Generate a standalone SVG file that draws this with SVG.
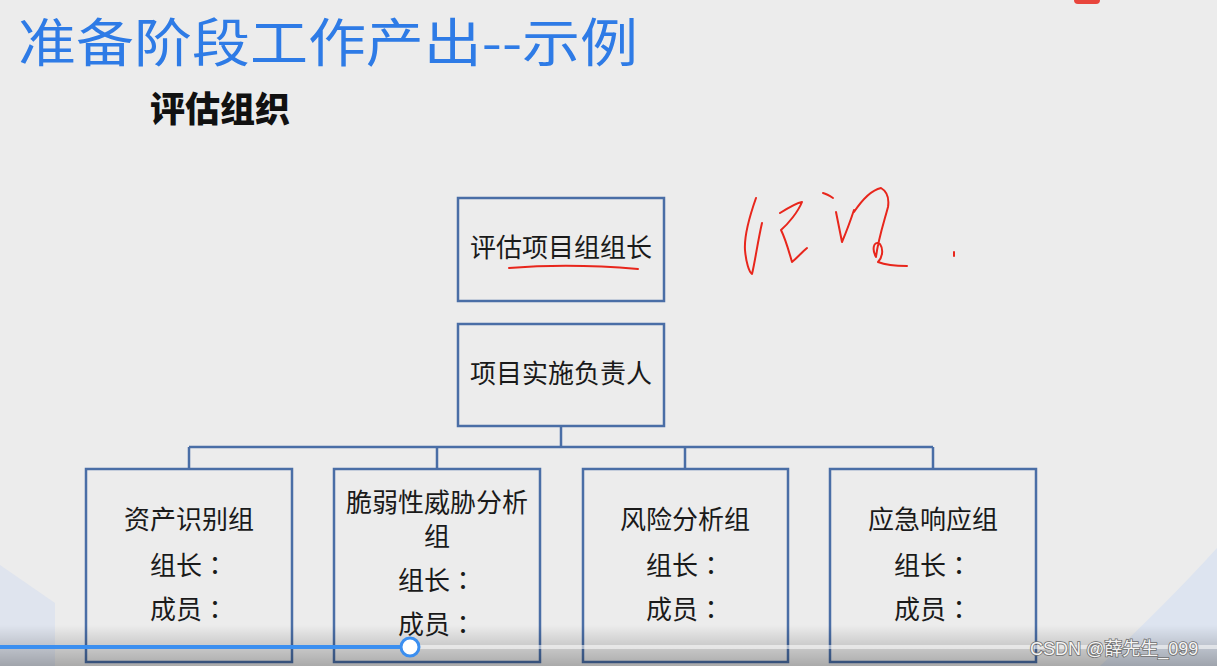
<svg xmlns="http://www.w3.org/2000/svg" width="1217" height="666" viewBox="0 0 1217 666">
<defs>
<style>
.box{fill:none;stroke:#4a6ea6;stroke-width:2.5}
.t{font-family:"Noto Sans CJK SC","Noto Sans",sans-serif;font-size:26px;fill:#1a1a1a;text-anchor:middle}
.c{font-family:"Noto Sans CJK TC","Noto Sans CJK SC",sans-serif}
.conn{fill:none;stroke:#4a6ea6;stroke-width:2.5}
.ink{fill:none;stroke:#e8261c;stroke-width:2;stroke-linecap:round;stroke-linejoin:round}
</style>
<linearGradient id="bar" x1="0" y1="0" x2="0" y2="1">
<stop offset="0" stop-color="#000" stop-opacity="0"/>
<stop offset="1" stop-color="#000" stop-opacity="0.28"/>
</linearGradient>
</defs>
<rect width="1217" height="666" fill="#ececec"/>
<path d="M0 565 L55 603 L55 666 L0 666 Z" fill="#dfe4ee"/>
<path d="M1100 666 Q1170 600 1217 548 L1217 666 Z" fill="#dde4f0"/>
<rect x="1074" y="-6" width="26" height="10" rx="4" fill="#e8453c"/>
<text x="18" y="62" font-family="Noto Sans CJK SC,sans-serif" font-size="52" fill="#2e7be6" textLength="620" lengthAdjust="spacingAndGlyphs">准备阶段工作产出--示例</text>
<text x="150" y="122" font-family="Noto Sans CJK SC,sans-serif" font-size="35" font-weight="900" fill="#111">评估组织</text>
<g id="connectors">
<path class="conn" d="M561 426 V447 M189 447 H933 M189 447 V469 M437 447 V469 M685 447 V469 M933 447 V469"/>
</g>
<g id="n1">
<rect class="box" x="458" y="198" width="206" height="103"/>
<text class="t" x="561" y="257">评估项目组组长</text>
</g>
<g id="n2">
<rect class="box" x="458" y="324" width="206" height="102"/>
<text class="t" x="561" y="383">项目实施负责人</text>
</g>
<g id="n3">
<rect class="box" x="86" y="469" width="206" height="193"/>
<text class="t" x="189" y="529">资产识别组</text>
<text class="t" x="189" y="575">组长<tspan class="c">：</tspan></text>
<text class="t" x="189" y="619">成员<tspan class="c">：</tspan></text>
</g>
<g id="n4">
<rect class="box" x="334" y="469" width="206" height="193"/>
<text class="t" x="437" y="512">脆弱性威胁分析</text>
<text class="t" x="437" y="546">组</text>
<text class="t" x="437" y="590">组长<tspan class="c">：</tspan></text>
<text class="t" x="437" y="634">成员<tspan class="c">：</tspan></text>
</g>
<g id="n5">
<rect class="box" x="583" y="469" width="205" height="193"/>
<text class="t" x="685" y="529">风险分析组</text>
<text class="t" x="685" y="575">组长<tspan class="c">：</tspan></text>
<text class="t" x="685" y="619">成员<tspan class="c">：</tspan></text>
</g>
<g id="n6">
<rect class="box" x="830" y="469" width="206" height="193"/>
<text class="t" x="933" y="529">应急响应组</text>
<text class="t" x="933" y="575">组长<tspan class="c">：</tspan></text>
<text class="t" x="933" y="619">成员<tspan class="c">：</tspan></text>
</g>
<g id="annotations">
<path class="ink" d="M509 268 Q570 263 638 269"/>
<path class="ink" d="M756 198 C750 215 744 235 745 250 C746 262 749 272 752 274 C755 262 758 240 762 223"/>
<path class="ink" d="M780 213 C788 208 796 203 802 202 C798 212 788 224 781 230 C786 240 789 252 792 262 C797 258 802 252 807 248"/>
<path class="ink" d="M823 193 C827 194 830 196 833 198 M836 212 C838 222 840 232 842 242 C845 235 850 222 854 210"/>
<path class="ink" d="M854 212 C862 200 872 190 881 188 C888 192 889 200 888 207 C884 222 878 240 876 257 C872 250 873 240 880 244 C884 250 882 258 878 262 C888 266 898 266 907 266"/>
<path class="ink" d="M954 252 L954 256"/>
</g>
<rect x="0" y="625" width="1217" height="41" fill="url(#bar)"/>
<rect x="410" y="645" width="807" height="4" fill="#ffffff" fill-opacity="0.55"/>
<rect x="0" y="645" width="410" height="4" fill="#3b8ff0"/>
<circle cx="410" cy="647" r="9" fill="#fff" stroke="#3b8ff0" stroke-width="3"/>
<text x="1030" y="655" font-family="Liberation Sans,Noto Sans CJK SC,sans-serif" font-size="18" fill="#f4f4f4" stroke="#6e6e6e" stroke-width="1.6" paint-order="stroke">CSDN @薛先生_099</text>
</svg>
